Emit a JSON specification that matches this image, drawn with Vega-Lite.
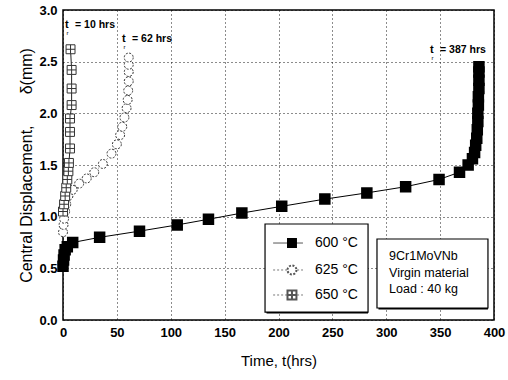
{
  "$schema": "https://vega.github.io/schema/vega-lite/v6.json",
  "width": 431,
  "height": 310,
  "autosize": "none",
  "padding": {"left": 63, "top": 10, "right": 14, "bottom": 60},
  "background": "white",
  "config": {
    "view": {"stroke": "black", "strokeWidth": 1.5},
    "font": "Liberation Sans"
  },
  "datasets": {
    "c600": [
      {"t": 0, "d": 0.52}, {"t": 0.5, "d": 0.58}, {"t": 1, "d": 0.63}, {"t": 2, "d": 0.68}, {"t": 4, "d": 0.71},
      {"t": 9, "d": 0.75}, {"t": 34, "d": 0.80}, {"t": 71, "d": 0.86}, {"t": 106, "d": 0.92}, {"t": 135, "d": 0.975},
      {"t": 166, "d": 1.035}, {"t": 203, "d": 1.10}, {"t": 243, "d": 1.17}, {"t": 282, "d": 1.23}, {"t": 318, "d": 1.29},
      {"t": 349, "d": 1.36}, {"t": 368, "d": 1.43}, {"t": 376, "d": 1.50}, {"t": 380, "d": 1.56}, {"t": 382, "d": 1.62},
      {"t": 383, "d": 1.69}, {"t": 384, "d": 1.76}, {"t": 384.5, "d": 1.84}, {"t": 385, "d": 1.92}, {"t": 385, "d": 2.0},
      {"t": 385.5, "d": 2.08}, {"t": 385.5, "d": 2.16}, {"t": 386, "d": 2.24}, {"t": 386, "d": 2.32}, {"t": 386, "d": 2.40},
      {"t": 386, "d": 2.45}
    ],
    "c625": [
      {"t": 0, "d": 0.85}, {"t": 0.5, "d": 0.92}, {"t": 1, "d": 0.98}, {"t": 2, "d": 1.05}, {"t": 3, "d": 1.12},
      {"t": 5, "d": 1.2}, {"t": 9, "d": 1.26}, {"t": 15, "d": 1.32}, {"t": 22, "d": 1.37}, {"t": 29, "d": 1.43},
      {"t": 37, "d": 1.51}, {"t": 45, "d": 1.61}, {"t": 50, "d": 1.70}, {"t": 53, "d": 1.79}, {"t": 55, "d": 1.87},
      {"t": 57, "d": 1.96}, {"t": 59, "d": 2.05}, {"t": 60, "d": 2.13}, {"t": 60.5, "d": 2.22}, {"t": 61, "d": 2.31},
      {"t": 61, "d": 2.40}, {"t": 61, "d": 2.47}, {"t": 61, "d": 2.54}
    ],
    "c650": [
      {"t": 0, "d": 1.05}, {"t": 1, "d": 1.12}, {"t": 2, "d": 1.2}, {"t": 3, "d": 1.28}, {"t": 4, "d": 1.36},
      {"t": 5, "d": 1.44}, {"t": 5.5, "d": 1.52}, {"t": 6.5, "d": 1.66}, {"t": 6.5, "d": 1.82}, {"t": 6.5, "d": 1.95},
      {"t": 8, "d": 2.08}, {"t": 8, "d": 2.24}, {"t": 8, "d": 2.42}, {"t": 7, "d": 2.62}
    ],
    "ann": [
      {"t": 1.9, "d": 2.855, "label": "= 10 hrs"},
      {"t": 54.8, "d": 2.72, "label": "= 62 hrs"},
      {"t": 340.6, "d": 2.61, "label": "= 387 hrs"}
    ],
    "boxes": [
      {"t": 187.5, "t2": 283.1, "d": 0.077, "d2": 0.929},
      {"t": 291.4, "t2": 394.4, "d": 0.116, "d2": 0.784}
    ],
    "leg": [
      {"s": "600", "t": 195, "t2": 222.7, "tm": 212.5, "tx": 233.9, "d": 0.745, "label": "600 °C"},
      {"s": "625", "t": 195, "t2": 222.7, "tm": 212.5, "tx": 233.9, "d": 0.484, "label": "625 °C"},
      {"s": "650", "t": 195, "t2": 222.7, "tm": 212.5, "tx": 233.9, "d": 0.242, "label": "650 °C"}
    ],
    "note": [
      {"t": 302.6, "d": 0.62, "label": "9Cr1MoVNb"},
      {"t": 302.6, "d": 0.455, "label": "Virgin material"},
      {"t": 302.6, "d": 0.30, "label": "Load : 40 kg"}
    ]
  },
  "encoding": {
    "x": {
      "field": "t", "type": "quantitative",
      "scale": {"domain": [0, 400], "nice": false, "zero": false},
      "axis": {
        "values": [0, 50, 100, 150, 200, 250, 300, 350, 400],
        "title": "Time, t(hrs)",
        "grid": true, "gridDash": [1, 3], "gridColor": "#000", "gridOpacity": 0.9, "gridWidth": 1,
        "domain": false, "ticks": false,
        "labelFont": "Liberation Sans", "labelFontSize": 13, "labelFontWeight": "bold", "labelColor": "#000",
        "labelPadding": 6, "labelFlush": false,
        "titleFont": "Liberation Sans", "titleFontSize": 15, "titleFontWeight": "normal", "titleColor": "#000",
        "titlePadding": 14
      }
    },
    "y": {
      "field": "d", "type": "quantitative",
      "scale": {"domain": [0, 3], "nice": false, "zero": false},
      "axis": {
        "values": [0, 0.5, 1, 1.5, 2, 2.5, 3],
        "format": ".1f",
        "title": "Central Displacement,\u00a0\u00a0\u00a0\u00a0\u00a0\u00a0\u00a0δ(mm)",
        "grid": true, "gridDash": [1, 3], "gridColor": "#000", "gridOpacity": 0.9, "gridWidth": 1,
        "domain": false, "ticks": false,
        "labelFont": "Liberation Sans", "labelFontSize": 13, "labelFontWeight": "bold", "labelColor": "#000",
        "labelPadding": 6,
        "titleFont": "Liberation Sans", "titleFontSize": 16, "titleFontWeight": "normal", "titleColor": "#000",
        "titlePadding": 4
      }
    }
  },
  "layer": [
    {"data": {"name": "c600"}, "mark": {"type": "line", "color": "#000", "strokeWidth": 1}, "encoding": {"order": {"field": "d"}}},
    {"data": {"name": "c625"}, "mark": {"type": "line", "color": "#222", "strokeWidth": 1, "strokeDash": [1, 2]}, "encoding": {"order": {"field": "d"}}},
    {"data": {"name": "c650"}, "mark": {"type": "line", "color": "#222", "strokeWidth": 1}, "encoding": {"order": {"field": "d"}}},
    {"data": {"name": "c600"}, "mark": {"type": "point", "shape": "square", "filled": true, "fill": "#000", "stroke": "#000", "size": 90, "opacity": 1}},
    {"data": {"name": "c625"}, "mark": {"type": "point", "shape": "circle", "fill": "white", "stroke": "#333", "strokeWidth": 1, "strokeDash": [2, 1.5], "size": 80, "opacity": 1}},
    {"data": {"name": "c650"}, "mark": {"type": "point", "shape": "M-1,-1H1V1H-1Z M0,-1V1 M-1,0H1", "fill": "white", "stroke": "#333", "strokeWidth": 1, "size": 80, "opacity": 1}},
    {"data": {"name": "boxes"}, "mark": {"type": "rect", "fill": "#000", "xOffset": 1.5, "yOffset": 1.5},
      "encoding": {"x2": {"field": "t2"}, "y2": {"field": "d2"}}},
    {"data": {"name": "boxes"}, "mark": {"type": "rect", "fill": "white", "stroke": "#000", "strokeWidth": 1.2},
      "encoding": {"x2": {"field": "t2"}, "y2": {"field": "d2"}}},
    {"data": {"name": "leg"}, "transform": [{"filter": "datum.s == '600'"}], "mark": {"type": "rule", "color": "#555", "strokeWidth": 1},
      "encoding": {"x2": {"field": "t2"}}},
    {"data": {"name": "leg"}, "transform": [{"filter": "datum.s != '600'"}], "mark": {"type": "rule", "color": "#777", "strokeWidth": 1, "strokeDash": [2, 2]},
      "encoding": {"x2": {"field": "t2"}}},
    {"data": {"name": "leg"}, "transform": [{"filter": "datum.s == '600'"}], "mark": {"type": "point", "shape": "square", "filled": true, "fill": "#000", "size": 100, "opacity": 1},
      "encoding": {"x": {"field": "tm", "type": "quantitative"}}},
    {"data": {"name": "leg"}, "transform": [{"filter": "datum.s == '625'"}], "mark": {"type": "point", "shape": "circle", "fill": "white", "stroke": "#555", "strokeDash": [2, 1.5], "size": 80, "opacity": 1},
      "encoding": {"x": {"field": "tm", "type": "quantitative"}}},
    {"data": {"name": "leg"}, "transform": [{"filter": "datum.s == '650'"}], "mark": {"type": "point", "shape": "M-1,-1H1V1H-1Z M0,-1V1 M-1,0H1", "fill": "white", "stroke": "#555", "size": 80, "opacity": 1},
      "encoding": {"x": {"field": "tm", "type": "quantitative"}}},
    {"data": {"name": "leg"}, "mark": {"type": "text", "align": "left", "baseline": "middle", "fontSize": 14, "font": "Liberation Sans", "color": "#000"},
      "encoding": {"x": {"field": "tx", "type": "quantitative"}, "text": {"field": "label"}}},
    {"data": {"name": "note"}, "mark": {"type": "text", "align": "left", "baseline": "middle", "fontSize": 12.5, "font": "Liberation Sans", "color": "#000"},
      "encoding": {"text": {"field": "label"}}},
    {"data": {"name": "ann"}, "mark": {"type": "text", "align": "left", "baseline": "middle", "fontSize": 11, "fontWeight": "bold", "font": "Liberation Sans", "color": "#000", "text": "t"}},
    {"data": {"name": "ann"}, "mark": {"type": "text", "align": "left", "baseline": "middle", "fontSize": 6, "font": "Liberation Sans", "color": "#000", "text": "r", "dx": 1.5, "dy": 8}},
    {"data": {"name": "ann"}, "mark": {"type": "text", "align": "left", "baseline": "middle", "fontSize": 10.5, "fontWeight": "bold", "font": "Liberation Sans", "color": "#000", "dx": 10},
      "encoding": {"text": {"field": "label"}}}
  ]
}
